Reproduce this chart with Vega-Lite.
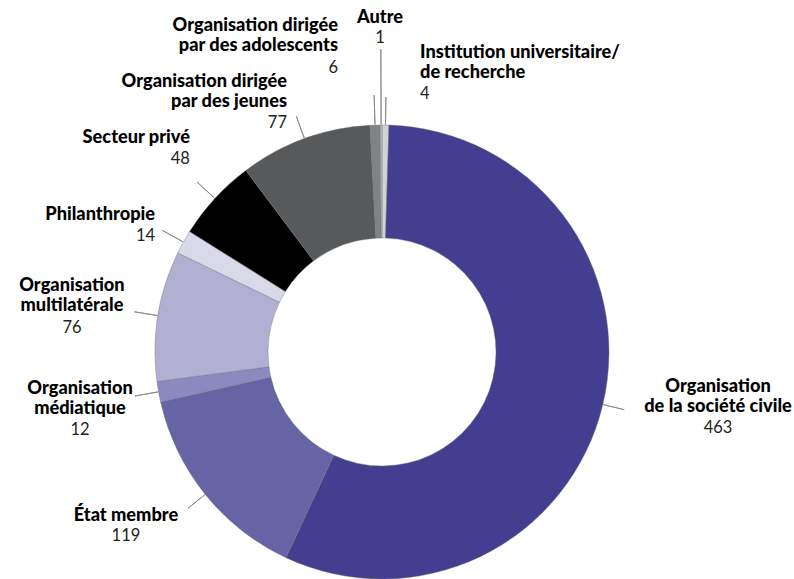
{
  "$schema": "https://vega.github.io/schema/vega-lite/v6.json",
  "width": 764,
  "height": 454,
  "autosize": {"type": "none"},
  "padding": {"left": 0, "top": 125, "right": 30, "bottom": 0},
  "background": "white",
  "config": {"view": {"stroke": null}},
  "data": {
    "values": [
      {"idx": 1, "category": "Institution universitaire/de recherche", "label": "Institution universitaire/\nde recherche", "value": 4},
      {"idx": 2, "category": "Organisation de la société civile", "label": "Organisation\nde la société civile", "value": 463},
      {"idx": 3, "category": "État membre", "label": "État membre", "value": 119},
      {"idx": 4, "category": "Organisation médiatique", "label": "Organisation\nmédiatique", "value": 12},
      {"idx": 5, "category": "Organisation multilatérale", "label": "Organisation\nmultilatérale", "value": 76},
      {"idx": 6, "category": "Philanthropie", "label": "Philanthropie", "value": 14},
      {"idx": 7, "category": "Secteur privé", "label": "Secteur privé", "value": 48},
      {"idx": 8, "category": "Organisation dirigée par des jeunes", "label": "Organisation dirigée\npar des jeunes", "value": 77},
      {"idx": 9, "category": "Organisation dirigée par des adolescents", "label": "Organisation dirigée\npar des adolescents", "value": 6},
      {"idx": 10, "category": "Autre", "label": "Autre", "value": 1}
    ]
  },
  "transform": [
    {"stack": "value", "groupby": [], "sort": [{"field": "idx", "order": "ascending"}], "offset": "normalize", "as": ["v0", "v1"]},
    {"calculate": "(datum.v0 + datum.v1) / 2", "as": "mid"}
  ],
  "layer": [
    {
      "mark": {"type": "arc", "innerRadius": 114, "outerRadius": 227, "stroke": "#6d6e71", "strokeWidth": 0.4},
      "encoding": {
        "theta": {"field": "v0", "type": "quantitative", "stack": null, "scale": {"type": "linear", "domain": [0, 1], "range": [0, 6.283185307179586]}},
        "theta2": {"field": "v1"},
        "color": {
          "field": "category", "type": "nominal", "legend": null,
          "scale": {
            "domain": ["Institution universitaire/de recherche", "Organisation de la société civile", "État membre", "Organisation médiatique", "Organisation multilatérale", "Philanthropie", "Secteur privé", "Organisation dirigée par des jeunes", "Organisation dirigée par des adolescents", "Autre"],
            "range": ["#d1d3d4", "#433e8f", "#6764a6", "#8c89c0", "#b1b0d3", "#dad9ea", "#000000", "#58595b", "#808285", "#bcbec0"]
          }
        }
      }
    },
    {
      "transform": [{"filter": "datum.idx >= 4 && datum.idx <= 8"}],
      "mark": {"type": "arc", "innerRadius": 227.5, "outerRadius": 251, "filled": false, "color": "#8a8a8a", "strokeWidth": 0.9},
      "encoding": {"theta": {"field": "mid", "type": "quantitative", "stack": null}, "theta2": {"field": "mid"}}
    },
    {
      "transform": [{"filter": "datum.idx == 2 || datum.idx == 3"}],
      "mark": {"type": "arc", "innerRadius": 227.5, "outerRadius": 249, "filled": false, "color": "#8a8a8a", "strokeWidth": 0.9},
      "encoding": {"theta": {"field": "mid", "type": "quantitative", "stack": null}, "theta2": {"field": "mid"}}
    },
    {
      "transform": [{"filter": "datum.idx == 9"}],
      "mark": {"type": "arc", "innerRadius": 227.5, "outerRadius": 257, "filled": false, "color": "#8a8a8a", "strokeWidth": 0.9},
      "encoding": {"theta": {"field": "mid", "type": "quantitative", "stack": null}, "theta2": {"field": "mid"}}
    },
    {
      "transform": [{"filter": "datum.idx == 10"}],
      "mark": {"type": "arc", "innerRadius": 227.5, "outerRadius": 303, "filled": false, "color": "#8a8a8a", "strokeWidth": 0.9},
      "encoding": {"theta": {"field": "mid", "type": "quantitative", "stack": null}, "theta2": {"field": "mid"}}
    },
    {
      "transform": [{"filter": "datum.idx == 1"}],
      "mark": {"type": "arc", "innerRadius": 227.5, "outerRadius": 255, "filled": false, "color": "#8a8a8a", "strokeWidth": 0.9},
      "encoding": {"theta": {"field": "mid", "type": "quantitative", "stack": null}, "theta2": {"field": "mid"}}
    },

    {"transform": [{"filter": "datum.idx == 1"}],
     "mark": {"type": "text", "radius": 262, "align": "left", "baseline": "alphabetic", "dx": 34, "dy": -31.7, "font": "Lato", "fontSize": 18.2, "fontWeight": 900, "lineBreak": "\n", "lineHeight": 20, "color": "#000000"},
     "encoding": {"theta": {"field": "mid", "type": "quantitative", "stack": null}, "text": {"field": "label"}}},
    {"transform": [{"filter": "datum.idx == 1"}],
     "mark": {"type": "text", "radius": 262, "align": "left", "baseline": "alphabetic", "dx": 34, "dy": 9, "font": "Lato", "fontSize": 16.5, "fontWeight": 400, "color": "#231f20"},
     "encoding": {"theta": {"field": "mid", "type": "quantitative", "stack": null}, "text": {"field": "value"}}},

    {"transform": [{"filter": "datum.idx == 2"}],
     "mark": {"type": "text", "radius": 250, "align": "center", "baseline": "alphabetic", "dx": 92.8, "dy": -17.9, "font": "Lato", "fontSize": 18.2, "fontWeight": 900, "lineBreak": "\n", "lineHeight": 20, "color": "#000000"},
     "encoding": {"theta": {"field": "mid", "type": "quantitative", "stack": null}, "text": {"field": "label"}}},
    {"transform": [{"filter": "datum.idx == 2"}],
     "mark": {"type": "text", "radius": 250, "align": "center", "baseline": "alphabetic", "dx": 92.8, "dy": 23.4, "font": "Lato", "fontSize": 16.5, "fontWeight": 400, "color": "#231f20"},
     "encoding": {"theta": {"field": "mid", "type": "quantitative", "stack": null}, "text": {"field": "value"}}},

    {"transform": [{"filter": "datum.idx == 3"}],
     "mark": {"type": "text", "radius": 248, "align": "center", "baseline": "alphabetic", "dx": -62.9, "dy": 13.5, "font": "Lato", "fontSize": 18.2, "fontWeight": 900, "lineBreak": "\n", "lineHeight": 20, "color": "#000000"},
     "encoding": {"theta": {"field": "mid", "type": "quantitative", "stack": null}, "text": {"field": "label"}}},
    {"transform": [{"filter": "datum.idx == 3"}],
     "mark": {"type": "text", "radius": 248, "align": "center", "baseline": "alphabetic", "dx": -62.9, "dy": 33.5, "font": "Lato", "fontSize": 16.5, "fontWeight": 400, "color": "#231f20"},
     "encoding": {"theta": {"field": "mid", "type": "quantitative", "stack": null}, "text": {"field": "value"}}},

    {"transform": [{"filter": "datum.idx == 4"}],
     "mark": {"type": "text", "radius": 252, "align": "center", "baseline": "alphabetic", "dx": -53.9, "dy": -2.2, "font": "Lato", "fontSize": 18.2, "fontWeight": 900, "lineBreak": "\n", "lineHeight": 20, "color": "#000000"},
     "encoding": {"theta": {"field": "mid", "type": "quantitative", "stack": null}, "text": {"field": "label"}}},
    {"transform": [{"filter": "datum.idx == 4"}],
     "mark": {"type": "text", "radius": 252, "align": "center", "baseline": "alphabetic", "dx": -53.9, "dy": 39.3, "font": "Lato", "fontSize": 16.5, "fontWeight": 400, "color": "#231f20"},
     "encoding": {"theta": {"field": "mid", "type": "quantitative", "stack": null}, "text": {"field": "value"}}},

    {"transform": [{"filter": "datum.idx == 5"}],
     "mark": {"type": "text", "radius": 252, "align": "center", "baseline": "alphabetic", "dx": -61.3, "dy": -20.2, "font": "Lato", "fontSize": 18.2, "fontWeight": 900, "lineBreak": "\n", "lineHeight": 20, "color": "#000000"},
     "encoding": {"theta": {"field": "mid", "type": "quantitative", "stack": null}, "text": {"field": "label"}}},
    {"transform": [{"filter": "datum.idx == 5"}],
     "mark": {"type": "text", "radius": 252, "align": "center", "baseline": "alphabetic", "dx": -61.3, "dy": 20.9, "font": "Lato", "fontSize": 16.5, "fontWeight": 400, "color": "#231f20"},
     "encoding": {"theta": {"field": "mid", "type": "quantitative", "stack": null}, "text": {"field": "value"}}},

    {"transform": [{"filter": "datum.idx == 6"}],
     "mark": {"type": "text", "radius": 251, "align": "right", "baseline": "alphabetic", "dx": -7.4, "dy": -10.4, "font": "Lato", "fontSize": 18.2, "fontWeight": 900, "lineBreak": "\n", "lineHeight": 20, "color": "#000000"},
     "encoding": {"theta": {"field": "mid", "type": "quantitative", "stack": null}, "text": {"field": "label"}}},
    {"transform": [{"filter": "datum.idx == 6"}],
     "mark": {"type": "text", "radius": 251, "align": "right", "baseline": "alphabetic", "dx": -7.4, "dy": 10.3, "font": "Lato", "fontSize": 16.5, "fontWeight": 400, "color": "#231f20"},
     "encoding": {"theta": {"field": "mid", "type": "quantitative", "stack": null}, "text": {"field": "value"}}},

    {"transform": [{"filter": "datum.idx == 7"}],
     "mark": {"type": "text", "radius": 250, "align": "right", "baseline": "alphabetic", "dx": -8, "dy": -39.5, "font": "Lato", "fontSize": 18.2, "fontWeight": 900, "lineBreak": "\n", "lineHeight": 20, "color": "#000000"},
     "encoding": {"theta": {"field": "mid", "type": "quantitative", "stack": null}, "text": {"field": "label"}}},
    {"transform": [{"filter": "datum.idx == 7"}],
     "mark": {"type": "text", "radius": 250, "align": "right", "baseline": "alphabetic", "dx": -8, "dy": -18.8, "font": "Lato", "fontSize": 16.5, "fontWeight": 400, "color": "#231f20"},
     "encoding": {"theta": {"field": "mid", "type": "quantitative", "stack": null}, "text": {"field": "value"}}},

    {"transform": [{"filter": "datum.idx == 8"}],
     "mark": {"type": "text", "radius": 250, "align": "right", "baseline": "alphabetic", "dx": -9.6, "dy": -30.0, "font": "Lato", "fontSize": 18.2, "fontWeight": 900, "lineBreak": "\n", "lineHeight": 20, "color": "#000000"},
     "encoding": {"theta": {"field": "mid", "type": "quantitative", "stack": null}, "text": {"field": "label"}}},
    {"transform": [{"filter": "datum.idx == 8"}],
     "mark": {"type": "text", "radius": 250, "align": "right", "baseline": "alphabetic", "dx": -9.6, "dy": 11.4, "font": "Lato", "fontSize": 16.5, "fontWeight": 400, "color": "#231f20"},
     "encoding": {"theta": {"field": "mid", "type": "quantitative", "stack": null}, "text": {"field": "value"}}},

    {"transform": [{"filter": "datum.idx == 9"}],
     "mark": {"type": "text", "radius": 262, "align": "right", "baseline": "alphabetic", "dx": -36, "dy": -59.3, "font": "Lato", "fontSize": 18.2, "fontWeight": 900, "lineBreak": "\n", "lineHeight": 20, "color": "#000000"},
     "encoding": {"theta": {"field": "mid", "type": "quantitative", "stack": null}, "text": {"field": "label"}}},
    {"transform": [{"filter": "datum.idx == 9"}],
     "mark": {"type": "text", "radius": 262, "align": "right", "baseline": "alphabetic", "dx": -36, "dy": -17.3, "font": "Lato", "fontSize": 16.5, "fontWeight": 400, "color": "#231f20"},
     "encoding": {"theta": {"field": "mid", "type": "quantitative", "stack": null}, "text": {"field": "value"}}},

    {"transform": [{"filter": "datum.idx == 10"}],
     "mark": {"type": "text", "radius": 303, "align": "center", "baseline": "alphabetic", "dx": -0.8, "dy": -25.7, "font": "Lato", "fontSize": 18.2, "fontWeight": 900, "lineBreak": "\n", "lineHeight": 20, "color": "#000000"},
     "encoding": {"theta": {"field": "mid", "type": "quantitative", "stack": null}, "text": {"field": "label"}}},
    {"transform": [{"filter": "datum.idx == 10"}],
     "mark": {"type": "text", "radius": 303, "align": "center", "baseline": "alphabetic", "dx": -0.8, "dy": -5.7, "font": "Lato", "fontSize": 16.5, "fontWeight": 400, "color": "#231f20"},
     "encoding": {"theta": {"field": "mid", "type": "quantitative", "stack": null}, "text": {"field": "value"}}}
  ]
}
